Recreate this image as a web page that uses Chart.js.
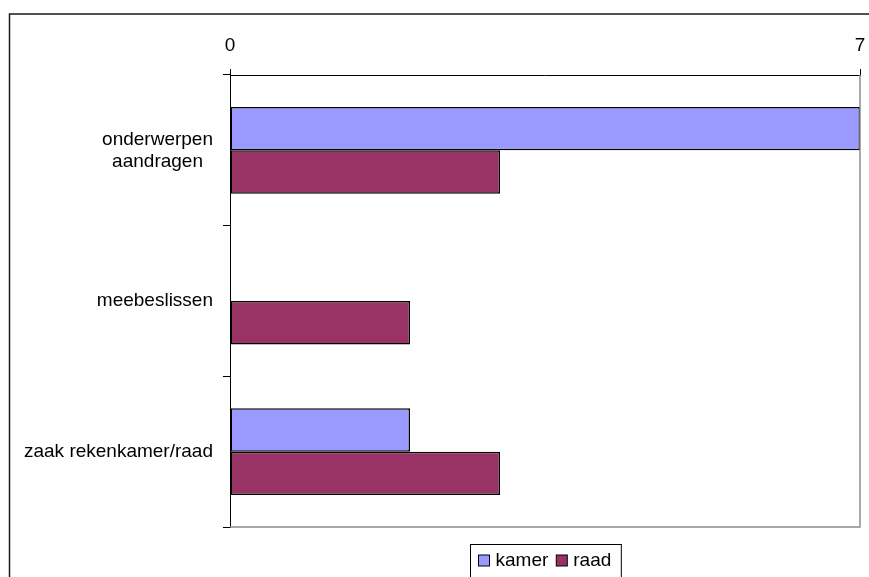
<!DOCTYPE html>
<html>
<head>
<meta charset="utf-8">
<script src="https://cdn.jsdelivr.net/npm/chart.js@4"></script>
<style>
  html, body { margin: 0; padding: 0; background: #fff; }
  canvas { display: block; }
</style>
</head>
<body>
<canvas id="chart" width="869" height="577"></canvas>
<script>
/* ── Data ───────────────────────────────────────────────────── */
const categories = [['onderwerpen', 'aandragen'], 'meebeslissen', 'zaak rekenkamer/raad'];
const kamer = [7, 0, 2];
const raad  = [3, 2, 3];
const xTicks = [0, 7];

const FONT = "'Liberation Sans', Arial, sans-serif";

/* ── Frame, category labels and legend box ──────────────────── */
const decorations = {
  id: 'decorations',
  beforeDraw(chart) {
    const { ctx, width, height } = chart;
    ctx.save();
    ctx.fillStyle = '#fff';
    ctx.fillRect(0, 0, width, height);
    ctx.restore();
  },
  afterDraw(chart) {
    const { ctx, chartArea: a, scales: { y } } = chart;
    ctx.save();

    // outer frame (runs off the right and bottom)
    ctx.strokeStyle = '#1a1a1a';
    ctx.lineWidth = 1.5;
    ctx.strokeRect(9.5, 14, 900, 620);

    // grey right / bottom edge of the plot area
    ctx.strokeStyle = '#8c8c8c';
    ctx.lineWidth = 1.5;
    ctx.beginPath();
    ctx.moveTo(a.right, a.top);
    ctx.lineTo(a.right, a.bottom);
    ctx.lineTo(a.left, a.bottom);
    ctx.stroke();

    // category labels, each block centred on itself and right-aligned to the axis
    ctx.fillStyle = '#000';
    ctx.font = '19px ' + FONT;
    ctx.textAlign = 'center';
    ctx.textBaseline = 'middle';
    const lineH = 22;
    const rightEdge = a.left - 17;
    chart.data.labels.forEach((lbl, i) => {
      const lines = Array.isArray(lbl) ? lbl : [lbl];
      const widest = Math.max(...lines.map(l => ctx.measureText(l).width));
      const cx = rightEdge - widest / 2;
      const cy = y.getPixelForTick(i);
      lines.forEach((l, j) => {
        ctx.fillText(l, cx, cy + (j - (lines.length - 1) / 2) * lineH);
      });
    });

    // legend
    const sets = chart.data.datasets;
    const box = 11, gap = 6, between = 8, padL = 8, padR = 10;
    ctx.textAlign = 'left';
    const widths = sets.map(d => ctx.measureText(d.label).width);
    let total = padL + padR + between * (sets.length - 1);
    widths.forEach(w => { total += box + gap + w; });
    const left = Math.round((a.left + a.right) / 2 - total / 2) + 0.5;
    const top = 544.5;
    ctx.strokeStyle = '#000';
    ctx.lineWidth = 1;
    ctx.strokeRect(left, top, total, 60);
    let x = left + padL;
    const cy = 560.5;
    sets.forEach((d, i) => {
      ctx.fillStyle = d.backgroundColor;
      ctx.fillRect(x, cy - box / 2, box, box);
      ctx.strokeRect(x, cy - box / 2, box, box);
      ctx.fillStyle = '#000';
      ctx.fillText(d.label, x + box + gap, cy);
      x += box + gap + widths[i] + between;
    });

    ctx.restore();
  }
};

/* ── Chart ──────────────────────────────────────────────────── */
new Chart(document.getElementById('chart'), {
  type: 'bar',
  data: {
    labels: categories,
    datasets: [
      {
        label: 'kamer',
        data: kamer,
        backgroundColor: '#9999ff',
        borderColor: '#000',
        borderWidth: 1.5,
        borderSkipped: false
      },
      {
        label: 'raad',
        data: raad,
        backgroundColor: '#993366',
        borderColor: '#000',
        borderWidth: 1.5,
        borderSkipped: false
      }
    ]
  },
  options: {
    indexAxis: 'y',
    responsive: false,
    animation: false,
    devicePixelRatio: 1,
    layout: { padding: { left: 0, right: 0, top: 0, bottom: 50 } },
    datasets: { bar: { categoryPercentage: 0.576, barPercentage: 1.0 } },
    plugins: {
      legend: { display: false },
      tooltip: { enabled: false }
    },
    scales: {
      x: {
        position: 'top',
        min: 0,
        max: 7,
        afterBuildTicks: s => { s.ticks = xTicks.map(v => ({ value: v })); },
        afterFit: s => { s.height = 75; s.paddingRight = 9; s.paddingLeft = 0; },
        grid: { drawOnChartArea: false, tickLength: 6, color: '#000' },
        border: { color: '#000', width: 1 },
        ticks: {
          color: '#000',
          font: { family: FONT, size: 19 },
          padding: 12,
          maxRotation: 0
        }
      },
      y: {
        afterFit: s => { s.width = 230; },
        grid: { drawOnChartArea: false, tickLength: 7, color: '#000', offset: true },
        border: { color: '#000', width: 1 },
        ticks: { display: false }
      }
    }
  },
  plugins: [decorations]
});
</script>
</body>
</html>
